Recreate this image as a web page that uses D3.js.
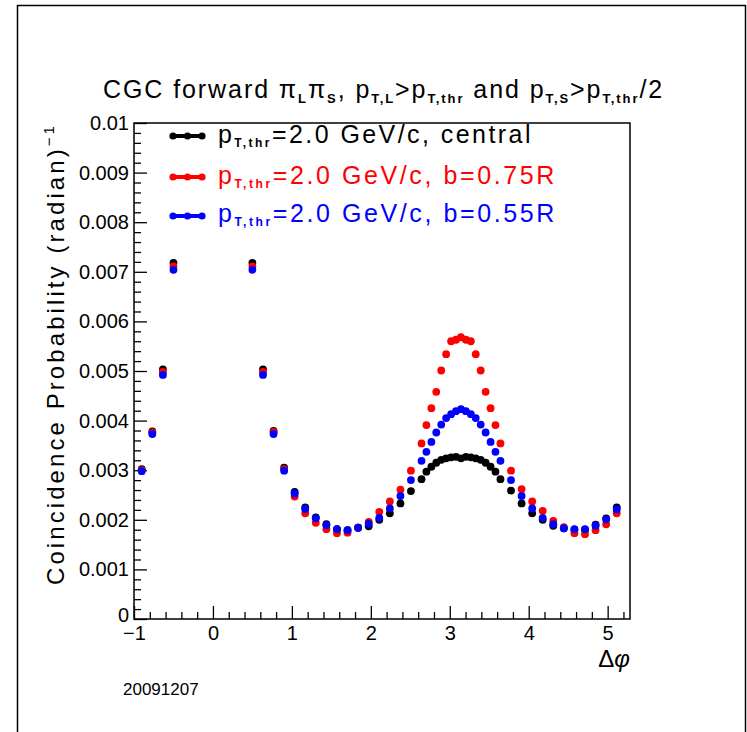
<!DOCTYPE html>
<html lang="en">
<head>
<meta charset="utf-8">
<title>CGC forward pi pi coincidence</title>
<script src="https://cdn.jsdelivr.net/npm/d3@7"></script>
<style>
  body { margin: 0; background: #fff; }
  svg { font-family: 'Liberation Sans', Arial, sans-serif; }
</style>
</head>
<body>
<div id="chart"></div>
<script>
// bin centres in delta phi (near side bins inside |dphi|<0.5 are off scale)
var dphi = [-0.902, -0.768, -0.634, -0.500,
            0.500, 0.634, 0.768, 0.902, 1.035, 1.169, 1.303, 1.437, 1.571, 1.705, 1.839, 1.973,
            2.107, 2.241, 2.375, 2.508,
            2.642, 2.704, 2.767, 2.829, 2.892, 2.954, 3.017, 3.079, 3.142, 3.204, 3.267, 3.329,
            3.392, 3.454, 3.517, 3.579, 3.642,
            3.776, 3.910, 4.044, 4.177, 4.311, 4.445, 4.579, 4.713, 4.847, 4.981, 5.115];

var central = [0.00302, 0.00378, 0.00503, 0.00718,
               0.00718, 0.00503, 0.00379, 0.00305, 0.00256, 0.00225, 0.00205, 0.00191, 0.00181, 0.00179, 0.00184, 0.00187,
               0.00200, 0.00213, 0.00233, 0.00258,
               0.00282, 0.00297, 0.00307, 0.00315, 0.00321, 0.00324, 0.00326, 0.00327, 0.00324, 0.00327, 0.00326, 0.00324,
               0.00321, 0.00315, 0.00307, 0.00297, 0.00282,
               0.00259, 0.00233, 0.00213, 0.00200, 0.00188, 0.00183, 0.00180, 0.00180, 0.00190, 0.00203, 0.00225];

var b075 = [0.00300, 0.00376, 0.00498, 0.00711,
            0.00711, 0.00498, 0.00377, 0.00302, 0.00247, 0.00213, 0.00194, 0.00181, 0.00173, 0.00174, 0.00184, 0.00196,
            0.00216, 0.00237, 0.00261, 0.00299,
            0.00354, 0.00391, 0.00425, 0.00458, 0.00501, 0.00534, 0.00560, 0.00563, 0.00568, 0.00563, 0.00560, 0.00534,
            0.00501, 0.00458, 0.00425, 0.00391, 0.00354,
            0.00299, 0.00262, 0.00237, 0.00218, 0.00198, 0.00185, 0.00173, 0.00171, 0.00179, 0.00191, 0.00213];

var b055 = [0.00298, 0.00373, 0.00492, 0.00704,
            0.00704, 0.00492, 0.00373, 0.00299, 0.00253, 0.00222, 0.00203, 0.00189, 0.00181, 0.00179, 0.00184, 0.00192,
            0.00204, 0.00223, 0.00248, 0.00280,
            0.00319, 0.00337, 0.00357, 0.00376, 0.00392, 0.00405, 0.00413, 0.00419, 0.00423, 0.00419, 0.00413, 0.00405,
            0.00392, 0.00376, 0.00357, 0.00337, 0.00319,
            0.00280, 0.00248, 0.00223, 0.00204, 0.00191, 0.00183, 0.00181, 0.00181, 0.00188, 0.00201, 0.00221];

var xTicks = [-1, 0, 1, 2, 3, 4, 5];
var xTickLabels = ["\u22121", "0", "1", "2", "3", "4", "5"];
var yTicks = [0, 0.001, 0.002, 0.003, 0.004, 0.005, 0.006, 0.007, 0.008, 0.009, 0.01];
var yTickLabels = ["0", "0.001", "0.002", "0.003", "0.004", "0.005", "0.006", "0.007", "0.008", "0.009", "0.01"];

var seriesNames = ["=2.0 GeV/c, central", "=2.0 GeV/c, b=0.75R", "=2.0 GeV/c, b=0.55R"];
var seriesColors = ["#000000", "#ff0000", "#0000ff"];
var seriesValues = [central, b075, b055];

var W = 747, H = 732;
var plot = {left: 134, right: 630, top: 123, bottom: 619};

var svg = d3.select("#chart").append("svg")
    .attr("width", W).attr("height", H);

// canvas border
svg.append("rect")
    .attr("x", 17.5).attr("y", 5.5)
    .attr("width", 728).attr("height", 760)
    .attr("fill", "none").attr("stroke", "#000").attr("stroke-width", 1.5);

var x = d3.scaleLinear().domain([-1, 5.283]).range([plot.left, plot.right]);
var y = d3.scaleLinear().domain([0, 0.01]).range([plot.bottom, plot.top]);

// minor ticks first
var xMinor = d3.range(-1, 5.3, 0.2).filter(function(v) { return Math.abs(v - Math.round(v)) > 1e-6; });
var yMinor = d3.range(0, 0.0101, 0.0002).filter(function(v) { return Math.abs(v * 1000 - Math.round(v * 1000)) > 1e-6; });

svg.append("g")
    .attr("transform", "translate(0," + plot.bottom + ")")
    .call(d3.axisBottom(x).tickValues(xMinor).tickSize(-7).tickFormat(""))
    .call(function(g) { g.select(".domain").remove(); });
svg.append("g")
    .attr("transform", "translate(" + plot.left + ",0)")
    .call(d3.axisLeft(y).tickValues(yMinor).tickSize(-7).tickFormat(""))
    .call(function(g) { g.select(".domain").remove(); });

var xAxis = svg.append("g")
    .attr("transform", "translate(0," + plot.bottom + ")")
    .call(d3.axisBottom(x).tickValues(xTicks).tickSize(-13).tickPadding(7)
        .tickFormat(function(d, i) { return xTickLabels[i]; }));
xAxis.select(".domain").remove();

var yAxis = svg.append("g")
    .attr("transform", "translate(" + plot.left + ",0)")
    .call(d3.axisLeft(y).tickValues(yTicks).tickSize(-13).tickPadding(5)
        .tickFormat(function(d, i) { return yTickLabels[i]; }));
yAxis.select(".domain").remove();
// the zero label sits a little higher, clear of the -1 below it
yAxis.selectAll(".tick text").filter(function(d) { return d === 0; }).attr("dy", "0.1em");

svg.selectAll(".tick line").attr("stroke", "#000").attr("stroke-width", 1.3);
svg.selectAll(".tick text")
    .attr("fill", "#000")
    .style("font-family", "'Liberation Sans', Arial, sans-serif")
    .style("font-size", "20px");

// frame
svg.append("rect")
    .attr("x", plot.left).attr("y", plot.top)
    .attr("width", plot.right - plot.left).attr("height", plot.bottom - plot.top)
    .attr("fill", "none").attr("stroke", "#000").attr("stroke-width", 1.5);

// markers, drawn black, red, blue
seriesValues.forEach(function(vals, s) {
    svg.append("g").selectAll("circle")
        .data(vals)
        .join("circle")
        .attr("cx", function(d, i) { return x(dphi[i]); })
        .attr("cy", function(d) { return y(d); })
        .attr("r", 3.9)
        .attr("fill", seriesColors[s]);
});

// spread text to a given width with letter spacing
function fitText(t, width) {
    var w = t.node().getComputedTextLength();
    var n = t.text().length;
    t.attr("letter-spacing", ((width - w) / n).toFixed(2));
}

// title with subscripts
var titleParts = [["CGC forward \u03c0", 0], ["L", 1], ["\u03c0", 0], ["S", 1], [", p", 0], ["T,L", 1],
                  [">p", 0], ["T,thr", 1], [" and p", 0], ["T,S", 1], [">p", 0], ["T,thr", 1], ["/2", 0]];
var title = svg.append("text")
    .attr("x", 103).attr("y", 98)
    .style("font-size", "25px").attr("fill", "#000");
var shifted = 0;
titleParts.forEach(function(p) {
    var sp = title.append("tspan").text(p[0]);
    var want = p[1] ? 5 : 0;
    sp.attr("dy", want - shifted);
    shifted = want;
    if (p[1]) sp.style("font-size", "13px").style("font-weight", "bold");
});
fitText(title, 561);

// legend
var legendY = [136, 177, 216];
var legendBase = [143, 184, 222];
var legendWidth = [315, 339, 339];
seriesNames.forEach(function(name, i) {
    var g = svg.append("g");
    g.append("line")
        .attr("x1", 172).attr("x2", 203)
        .attr("y1", legendY[i]).attr("y2", legendY[i])
        .attr("stroke", seriesColors[i]).attr("stroke-width", 4);
    g.selectAll("circle").data([173, 187.5, 202]).join("circle")
        .attr("cx", function(d) { return d; })
        .attr("cy", legendY[i])
        .attr("r", 3.6)
        .attr("fill", seriesColors[i]);
    var t = g.append("text")
        .attr("x", 218).attr("y", legendBase[i])
        .attr("fill", seriesColors[i])
        .style("font-size", "25px");
    t.append("tspan").text("p");
    t.append("tspan").text("T,thr").attr("dy", 4)
        .style("font-size", "12px").style("font-weight", "bold");
    t.append("tspan").text(name).attr("dy", -4);
    fitText(t, legendWidth[i]);
});

// y axis title
var yTitle = svg.append("text")
    .attr("transform", "translate(64,585) rotate(-90)")
    .attr("fill", "#000")
    .style("font-size", "24px");
yTitle.append("tspan").text("Coincidence Probability (radian)");
yTitle.append("tspan").text("\u22121").attr("dy", -10).style("font-size", "15px");
fitText(yTitle, 462);

// x axis title
var xTitle = svg.append("text")
    .attr("x", 630).attr("y", 667)
    .attr("text-anchor", "end")
    .attr("fill", "#000")
    .style("font-size", "24px");
xTitle.append("tspan").text("\u0394");
xTitle.append("tspan").text("\u03c6").style("font-style", "italic");

// date stamp
svg.append("text")
    .attr("x", 123).attr("y", 695)
    .attr("fill", "#000")
    .style("font-size", "17px")
    .text("20091207");
</script>
</body>
</html>
